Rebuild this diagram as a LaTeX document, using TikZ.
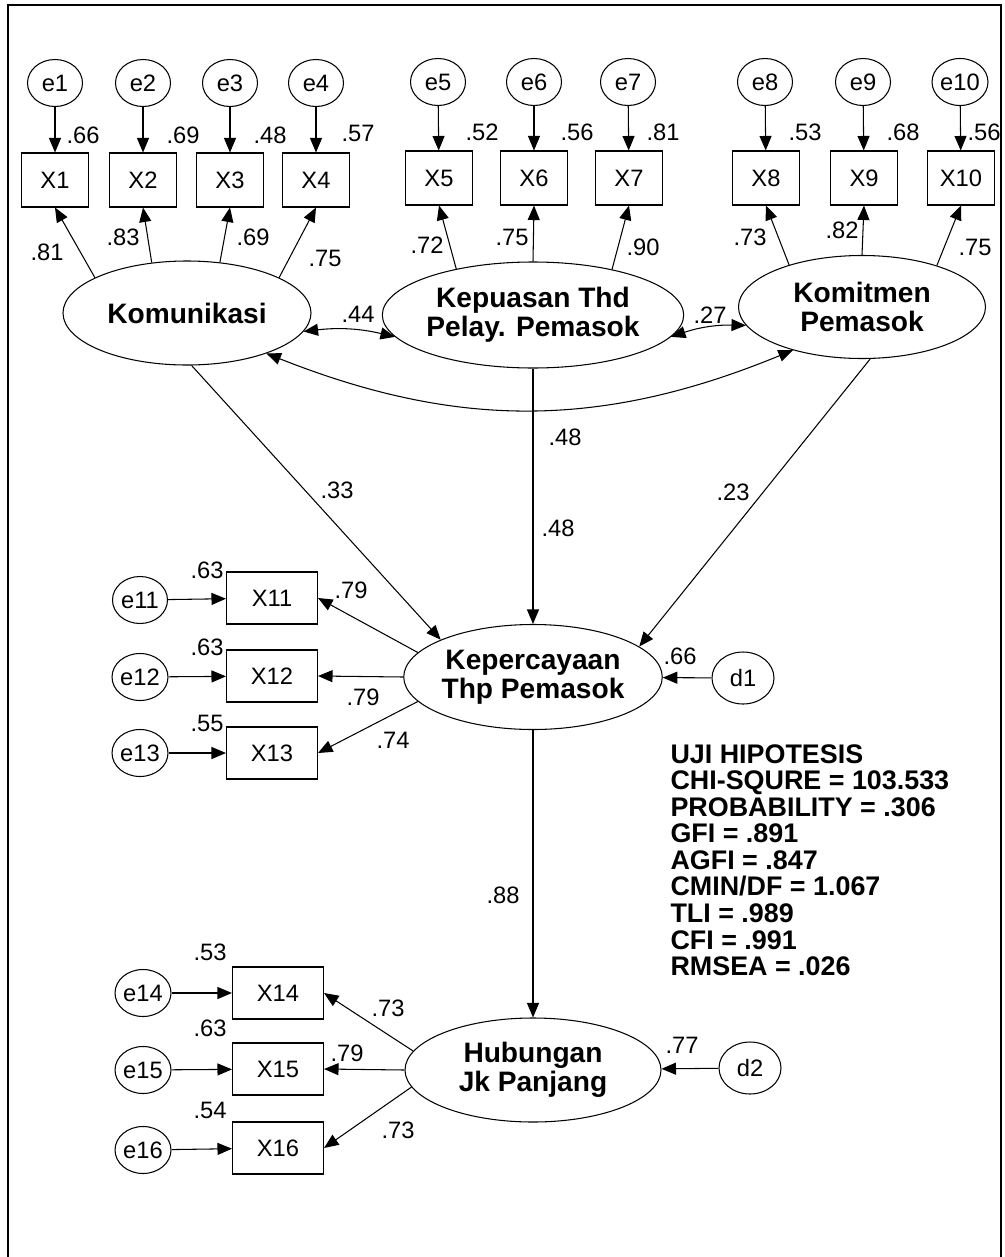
\documentclass[tikz,border=0pt]{standalone}
\usepackage{fontspec}
\setmainfont{Liberation Sans}
\usepackage{tikz}
\usetikzlibrary{arrows.meta,positioning,shapes.geometric}

\begin{document}
\begin{tikzpicture}[
  x=0.2mm,y=-0.2mm,
  font=\fontsize{13.5}{15}\selectfont,
  line width=0.6pt,
  err/.style={draw,ellipse,inner sep=0pt,minimum width=11mm,minimum height=9.4mm},
  dist/.style={draw,ellipse,inner sep=0pt,minimum width=12.4mm,minimum height=10.4mm},
  obs/.style={draw,inner sep=0pt,minimum width=13.4mm,minimum height=10.8mm},
  obsw/.style={obs,minimum width=18.2mm,minimum height=10.4mm},
  lat/.style={draw,ellipse,inner sep=0pt,align=center,font=\fontsize{16}{16.5}\selectfont\bfseries},
  val/.style={inner sep=1pt},
  arr/.style={-{Triangle[length=2.9mm,width=2.4mm]}},
  darr/.style={{Triangle[length=2.9mm,width=2.4mm]}-{Triangle[length=2.9mm,width=2.4mm]}}
]
\useasboundingbox (0,0) rectangle (1004,1257);
% frame
\draw[line width=1pt] (8,1257) -- (8,5) -- (1001,5) -- (1001,1257);

% exogenous latents
\node[lat,minimum width=49.6mm,minimum height=20.8mm] (komu) at (187,313) {Komunikasi};
\node[lat,minimum width=58mm,minimum height=21.2mm] (kepu) at (533,315) {Kepuasan Thd\\Pelay. Pemasok};
\node[lat,minimum width=49.4mm,minimum height=20.6mm] (komi) at (862,307) {Komitmen\\Pemasok};

% endogenous latents
\node[lat,minimum width=48.8mm,minimum height=21mm] (perc) at (533,677) {Kepercayaan\\Thp Pemasok};
\node[lat,minimum width=51.2mm,minimum height=20.8mm] (hub) at (533,1070) {Hubungan\\Jk Panjang};
\node[dist] (d1) at (743,678) {d1};
\node[dist] (d2) at (750,1068) {d2};

% indicators, top row
\node[obs] (x1) at (55,180) {X1};
\node[obs] (x2) at (143,180) {X2};
\node[obs] (x3) at (230,180) {X3};
\node[obs] (x4) at (316,180) {X4};
\node[obs] (x5) at (439,178) {X5};
\node[obs] (x6) at (534,178) {X6};
\node[obs] (x7) at (629,178) {X7};
\node[obs] (x8) at (766,178) {X8};
\node[obs] (x9) at (864,178) {X9};
\node[obs] (x10) at (961,178) {X10};

\node[err] (e1) at (55,83) {e1};
\node[err] (e2) at (143,83) {e2};
\node[err] (e3) at (230,83) {e3};
\node[err] (e4) at (316,83) {e4};
\node[err] (e5) at (438,82) {e5};
\node[err] (e6) at (534,82) {e6};
\node[err] (e7) at (628,82) {e7};
\node[err] (e8) at (765,82) {e8};
\node[err] (e9) at (863,82) {e9};
\node[err] (e10) at (960,82) {e10};

% indicators, left side
\node[obsw] (x11) at (272,598) {X11};
\node[obsw] (x12) at (272,676) {X12};
\node[obsw] (x13) at (272,753) {X13};
\node[obsw] (x14) at (278,993) {X14};
\node[obsw] (x15) at (278,1069) {X15};
\node[obsw] (x16) at (278,1148) {X16};

\node[err] (e11) at (140,600) {e11};
\node[err] (e12) at (140,677) {e12};
\node[err] (e13) at (140,753) {e13};
\node[err] (e14) at (143,993) {e14};
\node[err] (e15) at (143,1070) {e15};
\node[err] (e16) at (143,1150) {e16};

% error arrows
\draw[arr] (e1) -- (x1);
\draw[arr] (e2) -- (x2);
\draw[arr] (e3) -- (x3);
\draw[arr] (e4) -- (x4);
\draw[arr] (e5) -- (x5);
\draw[arr] (e6) -- (x6);
\draw[arr] (e7) -- (x7);
\draw[arr] (e8) -- (x8);
\draw[arr] (e9) -- (x9);
\draw[arr] (e10) -- (x10);
\draw[arr] (e11) -- (x11);
\draw[arr] (e12) -- (x12);
\draw[arr] (e13) -- (x13);
\draw[arr] (e14) -- (x14);
\draw[arr] (e15) -- (x15);
\draw[arr] (e16) -- (x16);
\draw[arr] (d1) -- (perc);
\draw[arr] (d2) -- (hub);

% loadings
\draw[arr] (komu.159) -- (x1.south);
\draw[arr] (komu.125) -- (x2.south);
\draw[arr] (komu.57) -- (x3.south);
\draw[arr] (komu.21) -- (x4.south);
\draw[arr] (kepu.149) -- (x5.south);
\draw[arr] (kepu.90) -- (x6.south);
\draw[arr] (kepu.30) -- (x7.south);
\draw[arr] (komi.150) -- (x8.south);
\draw[arr] (komi.90) -- (x9.south);
\draw[arr] (komi.29) -- (x10.south);
\draw[arr] (perc.168) -- (x11.east);
\draw[arr] (perc.west) -- (x12.east);
\draw[arr] (perc.192) -- (x13.east);
\draw[arr] (hub.171) -- (x14.east);
\draw[arr] (hub.west) -- (x15.east);
\draw[arr] (hub.188) -- (x16.east);

% structural paths
\draw[arr] (komu.275) -- (perc.158);
\draw[arr] (kepu.south) -- (perc.north);
\draw[arr] (komi.279) -- (perc.16);
\draw[arr] (perc.south) -- (hub.north);

% covariances
\draw[darr] (komu.-9) to[bend left=10] (kepu.189);
\draw[darr] (kepu.-9) to[bend left=10] (komi.189);
\draw[darr] (komu.-27) to[bend right=22] (komi.212);

% values
\node[val] at (83,135) {.66};
\node[val] at (183,135) {.69};
\node[val] at (270,135) {.48};
\node[val] at (358,133) {.57};
\node[val] at (482,132) {.52};
\node[val] at (577,132) {.56};
\node[val] at (663,132) {.81};
\node[val] at (805,132) {.53};
\node[val] at (903,132) {.68};
\node[val] at (984,132) {.56};

\node[val] at (47,252) {.81};
\node[val] at (123,237) {.83};
\node[val] at (253,237) {.69};
\node[val] at (325,258) {.75};
\node[val] at (427,245) {.72};
\node[val] at (512,237) {.75};
\node[val] at (643,247) {.90};
\node[val] at (750,237) {.73};
\node[val] at (842,230) {.82};
\node[val] at (975,247) {.75};

\node[val] at (358,314) {.44};
\node[val] at (710,315) {.27};
\node[val] at (565,437) {.48};
\node[val] at (558,528) {.48};
\node[val] at (337,490) {.33};
\node[val] at (733,492) {.23};
\node[val] at (503,895) {.88};
\node[val] at (680,656) {.66};
\node[val] at (682,1045) {.77};

\node[val] at (207,570) {.63};
\node[val] at (207,647) {.63};
\node[val] at (207,723) {.55};
\node[val] at (351,590) {.79};
\node[val] at (363,697) {.79};
\node[val] at (393,740) {.74};
\node[val] at (210,952) {.53};
\node[val] at (210,1028) {.63};
\node[val] at (210,1110) {.54};
\node[val] at (388,1008) {.73};
\node[val] at (347,1053) {.79};
\node[val] at (398,1130) {.73};

% fit indices
\node[anchor=north west,inner sep=0pt,align=left,font=\fontsize{15.3}{15.1}\selectfont\bfseries] (fit) at (670,744)
  {UJI HIPOTESIS\\CHI-SQURE = 103.533\\PROBABILITY = .306\\GFI = .891\\AGFI = .847\\CMIN/DF = 1.067\\TLI = .989\\CFI = .991\\RMSEA = .026};
\end{tikzpicture}
\end{document}
